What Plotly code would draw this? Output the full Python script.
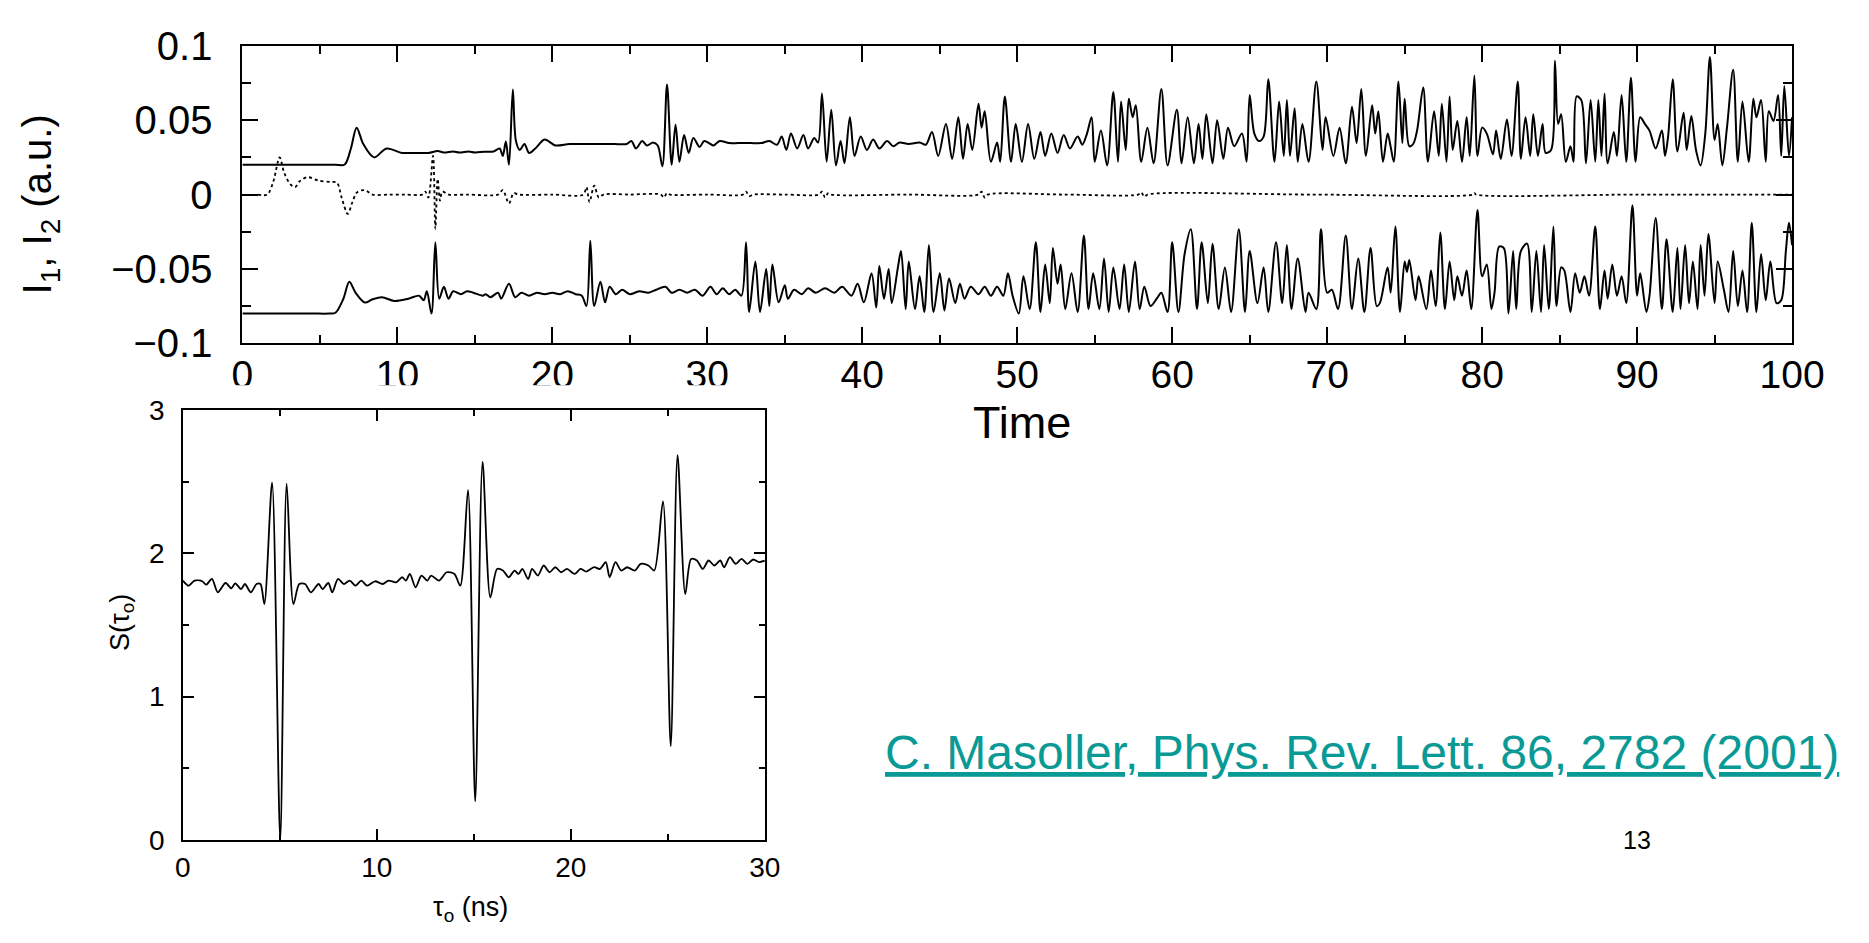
import plotly.graph_objects as go

W, H = 1869, 943
FONT = "Liberation Sans, Arial, Helvetica, sans-serif"

# ---------------- data: upper chart (time traces) ----------------
I1_POINTS = [
    (0, 0.020), (1.5, 0.020), (3.0, 0.020), (4.5, 0.020), (6.0, 0.020), (6.6, 0.0202), (7.0, 0.031),
    (7.37, 0.045), (7.8, 0.034), (8.5, 0.025), (9.3, 0.031), (10.3, 0.028), (11.0, 0.028),
    (12.0, 0.028), (12.6, 0.0292), (13.0, 0.0283), (13.6, 0.029), (14.0, 0.0283), (14.6, 0.029),
    (15.0, 0.0283), (15.6, 0.0288), (16.2, 0.029),
    (16.6, 0.031), (16.8, 0.026), (17.0, 0.0356), (17.2, 0.020), (17.45, 0.0706), (17.65, 0.036),
    (17.9, 0.030), (18.2, 0.034), (18.5, 0.028), (18.9, 0.031), (19.5, 0.037), (20.2, 0.033),
    (21.1, 0.034), (22.0, 0.034), (23.0, 0.034), (24.0, 0.034), (24.8, 0.034), (25.1, 0.036),
    (25.4, 0.031), (25.8, 0.036), (26.1, 0.033), (26.5, 0.035), (26.8, 0.033), (27.1, 0.019),
    (27.4, 0.074), (27.7, 0.020), (27.95, 0.047), (28.2, 0.022), (28.5, 0.040), (28.8, 0.028),
    (29.1, 0.038), (29.5, 0.032), (29.8, 0.036), (30.2, 0.034), (30.4, 0.033), (30.8, 0.036),
    (31.4, 0.0346), (32.0, 0.0346), (32.8, 0.0346), (33.5, 0.0346), (34.0, 0.036),
    (34.5, 0.0335), (34.8, 0.039), (35.1, 0.030), (35.4, 0.041), (35.8, 0.031), (36.2, 0.040),
    (36.5, 0.031), (36.9, 0.038), (37.15, 0.035), (37.4, 0.068), (37.7, 0.022), (38.0, 0.057),
    (38.3, 0.0196), (38.6, 0.036), (38.85, 0.021), (39.2, 0.052), (39.5, 0.026), (39.9, 0.039),
    (40.3, 0.030), (40.7, 0.037), (41.1, 0.031), (41.6, 0.036), (42.0, 0.0325), (42.4, 0.035),
    (43.0, 0.034), (43.7, 0.035), (44.1, 0.0335), (44.5, 0.042), (44.9, 0.026), (45.4, 0.0475),
    (45.8, 0.024), (46.2, 0.052), (46.5, 0.024), (46.8, 0.0475), (47.1, 0.030), (47.5, 0.061),
    (47.7, 0.045), (47.9, 0.056), (48.3, 0.022), (48.7, 0.035), (48.9, 0.022), (49.2, 0.066),
    (49.6, 0.022), (49.9, 0.0475), (50.3, 0.022), (50.7, 0.0475), (51.1, 0.024), (51.5, 0.042),
    (51.8, 0.026), (52.2, 0.041), (52.6, 0.028), (53.0, 0.040), (53.4, 0.031), (53.9, 0.039),
    (54.2, 0.0335), (54.5, 0.041), (54.8, 0.052), (55.0, 0.022), (55.4, 0.043), (55.8, 0.0196),
    (56.2, 0.069), (56.5, 0.022), (56.7, 0.0625), (57.0, 0.030), (57.2, 0.0645), (57.45, 0.052),
    (57.65, 0.060), (58.0, 0.022), (58.4, 0.045), (58.8, 0.021), (59.3, 0.071), (59.7, 0.0196),
    (60.3, 0.057), (60.6, 0.021), (61.0, 0.052), (61.4, 0.021), (61.7, 0.0475), (61.95, 0.024),
    (62.2, 0.054), (62.6, 0.021), (62.9, 0.050), (63.3, 0.024), (63.6, 0.045), (64.0, 0.0325),
    (64.5, 0.041), (64.8, 0.022), (65.0, 0.067), (65.3, 0.041), (65.6, 0.036), (65.9, 0.039),
    (66.2, 0.0775), (66.6, 0.022), (66.9, 0.0625), (67.2, 0.026), (67.4, 0.0635), (67.6, 0.026),
    (67.9, 0.058), (68.1, 0.022), (68.4, 0.0475), (68.8, 0.022), (69.3, 0.076), (69.7, 0.030),
    (69.9, 0.052), (70.4, 0.026), (70.8, 0.045), (71.2, 0.021), (71.6, 0.059), (71.9, 0.0346),
    (72.2, 0.071), (72.5, 0.026), (72.9, 0.060), (73.1, 0.041), (73.3, 0.056), (73.6, 0.022),
    (73.9, 0.041), (74.1, 0.032), (74.3, 0.022), (74.6, 0.076), (74.85, 0.0346), (75.0, 0.0645),
    (75.3, 0.0325), (75.55, 0.034), (75.8, 0.043), (76.2, 0.072), (76.5, 0.022), (76.9, 0.056),
    (77.2, 0.026), (77.4, 0.061), (77.7, 0.022), (77.9, 0.066), (78.1, 0.030), (78.4, 0.0495),
    (78.7, 0.022), (79.0, 0.052), (79.2, 0.026), (79.5, 0.080), (79.7, 0.026), (80.0, 0.045),
    (80.3, 0.041), (80.7, 0.027), (80.9, 0.043), (81.2, 0.024), (81.6, 0.0505), (81.9, 0.026),
    (82.3, 0.076), (82.5, 0.024), (82.8, 0.052), (83.1, 0.026), (83.3, 0.054), (83.6, 0.026),
    (83.9, 0.0475), (84.1, 0.028), (84.45, 0.030), (84.7, 0.090), (84.9, 0.0475), (85.1, 0.054),
    (85.4, 0.022), (85.7, 0.0325), (85.9, 0.022), (86.1, 0.066), (86.4, 0.0635), (86.7, 0.021),
    (87.0, 0.0635), (87.3, 0.022), (87.5, 0.0635), (87.7, 0.026), (87.9, 0.068), (88.1, 0.021),
    (88.5, 0.042), (88.7, 0.026), (89.0, 0.067), (89.3, 0.022), (89.6, 0.0785), (89.9, 0.022),
    (90.2, 0.052), (90.5, 0.0475), (90.8, 0.043), (91.2, 0.031), (91.6, 0.043), (91.8, 0.026),
    (92.0, 0.039), (92.3, 0.0775), (92.6, 0.029), (93.0, 0.055), (93.2, 0.030), (93.5, 0.0528),
    (93.8, 0.030), (94.1, 0.0196), (94.4, 0.041), (94.7, 0.0925), (95.0, 0.0367), (95.2, 0.0475),
    (95.5, 0.0196), (95.8, 0.045), (96.2, 0.084), (96.5, 0.022), (96.8, 0.0625), (97.2, 0.022),
    (97.5, 0.0645), (97.7, 0.052), (98.0, 0.0635), (98.3, 0.022), (98.5, 0.056), (98.8, 0.0495),
    (99.1, 0.067), (99.3, 0.026), (99.5, 0.073), (99.8, 0.026), (100.0, 0.052),
]

I2_POINTS = [
    (0, -0.080), (1.5, -0.080), (3.0, -0.080), (4.5, -0.080), (5.6, -0.080), (6.0, -0.0795),
    (6.5, -0.0704), (6.9, -0.0586), (7.3, -0.066), (7.9, -0.0726),
    (8.4, -0.0704), (9.0, -0.069), (9.8, -0.0715), (10.7, -0.070), (11.4, -0.068), (11.7, -0.071),
    (11.9, -0.065), (12.2, -0.080), (12.45, -0.032), (12.7, -0.070), (13.0, -0.062), (13.3, -0.070),
    (13.6, -0.065), (14.1, -0.067), (14.5, -0.065), (14.9, -0.066), (15.5, -0.068), (15.7, -0.067),
    (16.0, -0.069), (16.5, -0.066), (16.7, -0.070), (17.2, -0.060), (17.6, -0.069), (18.0, -0.066),
    (18.5, -0.068), (19.0, -0.066), (19.5, -0.067), (20.0, -0.066), (20.5, -0.067), (21.0, -0.065),
    (21.5, -0.067), (21.9, -0.068), (22.2, -0.075), (22.45, -0.031), (22.7, -0.075), (23.1, -0.0586),
    (23.4, -0.0725), (23.7, -0.062), (24.1, -0.067), (24.5, -0.064), (25.0, -0.067), (25.6, -0.065),
    (26.2, -0.066), (26.7, -0.064), (27.3, -0.062), (27.7, -0.066), (28.2, -0.064), (28.7, -0.066),
    (29.2, -0.064), (29.7, -0.068), (30.2, -0.062), (30.6, -0.067), (31.0, -0.063), (31.4, -0.067),
    (31.8, -0.064), (32.2, -0.068), (32.5, -0.032), (32.7, -0.079), (33.1, -0.045), (33.4, -0.079),
    (33.8, -0.050), (34.0, -0.075), (34.2, -0.047), (34.6, -0.0725), (35.0, -0.061), (35.2, -0.070),
    (35.6, -0.064), (36.1, -0.067), (36.5, -0.063), (37.0, -0.066), (37.6, -0.063), (38.2, -0.066),
    (38.7, -0.062), (39.3, -0.068), (39.7, -0.060), (40.1, -0.0725), (40.6, -0.053), (40.9, -0.076),
    (41.1, -0.048), (41.4, -0.070), (41.7, -0.050), (41.9, -0.073), (42.3, -0.049), (42.5, -0.038),
    (42.8, -0.077), (43.0, -0.045), (43.4, -0.077), (43.7, -0.055), (44.0, -0.079), (44.3, -0.034),
    (44.6, -0.079), (45.0, -0.053), (45.3, -0.078), (45.6, -0.0565), (46.0, -0.073), (46.3, -0.060),
    (46.6, -0.070), (47.0, -0.062), (47.5, -0.067), (47.9, -0.062), (48.3, -0.068), (48.7, -0.062),
    (49.1, -0.068), (49.4, -0.053), (49.7, -0.068), (50.1, -0.080), (50.4, -0.055), (50.8, -0.077),
    (51.2, -0.032), (51.5, -0.079), (51.8, -0.047), (52.1, -0.073), (52.3, -0.036), (52.6, -0.060),
    (52.8, -0.047), (53.1, -0.077), (53.5, -0.053), (53.9, -0.079), (54.3, -0.0276), (54.6, -0.077),
    (54.9, -0.053), (55.3, -0.077), (55.6, -0.043), (55.9, -0.079), (56.2, -0.049), (56.6, -0.077),
    (56.9, -0.047), (57.2, -0.079), (57.6, -0.045), (57.9, -0.077), (58.2, -0.062), (58.6, -0.075),
    (59.0, -0.070), (59.3, -0.066), (59.7, -0.079), (60.0, -0.032), (60.4, -0.079), (60.8, -0.040),
    (61.2, -0.0233), (61.6, -0.077), (61.9, -0.032), (62.3, -0.073), (62.6, -0.033), (63.0, -0.077),
    (63.4, -0.049), (63.8, -0.079), (64.3, -0.0233), (64.7, -0.079), (65.0, -0.038), (65.5, -0.073),
    (65.9, -0.049), (66.2, -0.079), (66.7, -0.032), (67.1, -0.073), (67.4, -0.034), (67.7, -0.077),
    (68.1, -0.043), (68.6, -0.079), (68.8, -0.066), (69.3, -0.077), (69.6, -0.0233), (70.0, -0.066),
    (70.3, -0.064), (70.7, -0.077), (71.2, -0.0276), (71.6, -0.077), (72.0, -0.043), (72.4, -0.079),
    (72.8, -0.036), (73.2, -0.075), (73.4, -0.073), (73.9, -0.049), (74.1, -0.066), (74.4, -0.0214),
    (74.7, -0.079), (75.0, -0.045), (75.15, -0.052), (75.3, -0.044), (75.7, -0.071), (75.9, -0.055),
    (76.4, -0.077), (76.7, -0.051), (77.0, -0.075), (77.3, -0.0255), (77.6, -0.077), (77.9, -0.045),
    (78.2, -0.071), (78.4, -0.055), (78.7, -0.068), (79.0, -0.051), (79.3, -0.077), (79.7, -0.0104),
    (80.0, -0.055), (80.3, -0.047), (80.6, -0.077), (80.8, -0.066), (81.1, -0.035), (81.4, -0.036),
    (81.7, -0.080), (82.0, -0.038), (82.2, -0.077), (82.5, -0.038), (82.9, -0.033), (83.2, -0.079),
    (83.5, -0.038), (83.8, -0.079), (84.0, -0.034), (84.3, -0.077), (84.6, -0.0214), (84.8, -0.075),
    (85.1, -0.049), (85.3, -0.051), (85.7, -0.079), (86.0, -0.053), (86.3, -0.066), (86.6, -0.055),
    (86.9, -0.068), (87.3, -0.0214), (87.6, -0.077), (87.9, -0.051), (88.1, -0.070), (88.4, -0.047),
    (88.7, -0.068), (89.0, -0.055), (89.3, -0.073), (89.7, -0.0072), (90.0, -0.068), (90.2, -0.053),
    (90.6, -0.079), (90.8, -0.068), (91.2, -0.0158), (91.6, -0.077), (91.9, -0.030), (92.3, -0.079),
    (92.6, -0.036), (92.8, -0.077), (93.1, -0.034), (93.35, -0.073), (93.6, -0.045), (93.9, -0.077),
    (94.1, -0.034), (94.35, -0.068), (94.6, -0.0265), (95.0, -0.073), (95.2, -0.045), (95.6, -0.064),
    (95.9, -0.079), (96.2, -0.038), (96.5, -0.075), (96.8, -0.051), (97.1, -0.079), (97.4, -0.019),
    (97.7, -0.079), (98.0, -0.040), (98.3, -0.071), (98.6, -0.045), (99.0, -0.073), (99.3, -0.071),
    (99.6, -0.038), (99.8, -0.019), (100.0, -0.034),
]

DIFF_POINTS = [
    (1.0, 0.0), (1.6, 0.0), (2.0, 0.009), (2.4, 0.025), (2.7, 0.0145), (3.1, 0.0068), (3.4, 0.005),
    (3.7, 0.009), (4.2, 0.0117), (4.9, 0.0094), (5.7, 0.0085), (6.1, 0.008), (6.4, -0.002),
    (6.8, -0.013), (7.1, -0.005), (7.4, 0.0015), (7.9, 0.003), (8.4, 0.0), (9.5, 0.0), (10.5, 0.0),
    (11.6, 0.0), (11.8, 0.002),
    (12.0, -0.002), (12.3, 0.026), (12.45, -0.023), (12.6, 0.0105), (12.75, -0.004), (12.9, 0.002),
    (13.3, 0.0), (14.5, 0.0), (16.5, 0.0), (16.8, 0.003), (17.2, -0.006), (17.5, 0.001), (17.8, 0.0),
    (20.0, 0.0), (22.0, 0.0),
    (22.2, 0.005), (22.4, -0.005), (22.7, 0.006), (23.0, -0.002), (23.3, 0.0), (25.0, 0.0), (27.0, 0.0),
    (27.2, -0.002), (27.4, 0.001), (27.6, 0.0), (30.0, 0.0), (32.3, 0.0), (32.5, 0.002), (32.7, -0.001),
    (33.0, 0.0), (35.0, 0.0),
    (37.2, 0.0), (37.4, 0.002), (37.6, -0.002), (37.8, 0.001), (38.0, 0.0), (43.0, 0.0), (47.5, 0.0),
    (47.7, 0.002), (47.9, -0.002), (48.1, 0.0), (53.0, 0.0), (57.8, 0.0), (58.0, 0.0015),
    (58.2, -0.0015), (58.4, 0.0), (69.0, 0.0), (79.4, 0.0), (79.5, 0.001), (79.6, 0.0), (90.0, 0.0),
    (100.0, 0.0),
]

TOP_X_TICKS = [0, 10, 20, 30, 40, 50, 60, 70, 80, 90, 100]
TOP_X_LABELS = ["0", "10", "20", "30", "40", "50", "60", "70", "80", "90", "100"]
TOP_X_MINOR = [5, 15, 25, 35, 45, 55, 65, 75, 85, 95]
TOP_Y_TICKS = [-0.1, -0.05, 0, 0.05, 0.1]
TOP_Y_LABELS = ["\u22120.1", "\u22120.05", "0", "0.05", "0.1"]
TOP_Y_MINOR = [-0.075, -0.025, 0.025, 0.075]

# ---------------- data: lower chart S(tau) ----------------
S_POINTS = [
    (0.0, 1.810), (0.3, 1.774), (0.6, 1.810), (1.0, 1.805), (1.2, 1.781), (1.5, 1.821), (1.8, 1.728),
    (2.2, 1.793), (2.5, 1.756), (2.7, 1.791), (3.0, 1.751), (3.2, 1.786), (3.5, 1.728), (3.8, 1.786),
    (4.0, 1.786), (4.2, 1.646), (4.6, 2.494), (5.02, 0.0), (5.35, 2.487), (5.7, 1.646), (6.0, 1.786),
    (6.3, 1.786), (6.6, 1.728), (7.0, 1.786), (7.2, 1.751), (7.5, 1.793), (7.7, 1.728), (8.0, 1.821),
    (8.3, 1.786), (8.6, 1.810), (8.9, 1.774), (9.2, 1.810), (9.5, 1.774), (9.9, 1.805), (10.3, 1.786),
    (10.6, 1.810), (11.0, 1.798), (11.3, 1.833), (11.5, 1.810), (11.7, 1.856), (12.0, 1.763),
    (12.3, 1.845), (12.6, 1.810), (12.8, 1.845), (13.2, 1.810), (13.6, 1.868), (14.0, 1.856),
    (14.3, 1.774), (14.7, 2.440), (15.07, 0.269), (15.45, 2.638), (15.85, 1.693), (16.2, 1.891),
    (16.5, 1.880), (16.8, 1.833), (17.1, 1.880), (17.3, 1.856), (17.5, 1.891), (17.8, 1.821),
    (18.0, 1.891), (18.3, 1.845), (18.6, 1.915), (18.9, 1.868), (19.2, 1.903), (19.5, 1.868),
    (19.8, 1.891), (20.2, 1.856), (20.5, 1.891), (20.8, 1.873), (21.2, 1.903), (21.5, 1.891),
    (21.8, 1.938), (22.0, 1.833), (22.3, 1.938), (22.6, 1.880), (22.9, 1.903), (23.3, 1.880),
    (23.6, 1.926), (24.0, 1.915), (24.3, 1.880), (24.75, 2.363), (25.15, 0.654), (25.5, 2.685),
    (25.9, 1.716), (26.2, 1.961), (26.5, 1.950), (26.8, 1.891), (27.1, 1.950), (27.4, 1.915),
    (27.7, 1.950), (27.9, 1.903), (28.2, 1.973), (28.5, 1.926), (28.8, 1.961), (29.1, 1.926),
    (29.4, 1.957), (29.7, 1.938), (30.0, 1.950),
]

S_X_TICKS = [0, 10, 20, 30]
S_X_MINOR = [5, 15, 25]
S_Y_TICKS = [0, 1, 2, 3]
S_Y_MINOR = [0.5, 1.5, 2.5]

CITATION = "C. Masoller, Phys. Rev. Lett. 86, 2782 (2001)"
PAGE_NUMBER = "13"


def unzip(points):
    return [p[0] for p in points], [p[1] for p in points]


def fx(px):
    return px / W


def fy(px):
    return 1 - px / H


i1_t, i1_v = unzip(I1_POINTS)
i2_t, i2_v = unzip(I2_POINTS)
d_t, d_v = unzip(DIFF_POINTS)
s_t, s_v = unzip(S_POINTS)

fig = go.Figure()

# subplot 1: carrier of the upper chart's x tick labels
fig.add_trace(go.Scatter(x=[], y=[], xaxis="x", yaxis="y", showlegend=False, hoverinfo="skip"))
# subplot 2: white panel of the lower picture (it hides the lower half of some labels above)
fig.add_trace(go.Scatter(x=[], y=[], xaxis="x2", yaxis="y2", showlegend=False, hoverinfo="skip"))

line_solid = dict(color="black", width=2, shape="spline", smoothing=0.9)
fig.add_trace(go.Scatter(x=i1_t, y=i1_v, xaxis="x3", yaxis="y3", mode="lines",
                         line=line_solid, showlegend=False, name="I1"))
fig.add_trace(go.Scatter(x=i2_t, y=i2_v, xaxis="x3", yaxis="y3", mode="lines",
                         line=line_solid, showlegend=False, name="I2"))
fig.add_trace(go.Scatter(x=d_t, y=d_v, xaxis="x3", yaxis="y3", mode="lines",
                         line=dict(color="black", width=1.8, dash="3px,3px", shape="spline", smoothing=0.9),
                         showlegend=False, name="I1 - I2"))

fig.add_trace(go.Scatter(x=s_t, y=s_v, xaxis="x4", yaxis="y4", mode="lines",
                         line=dict(color="black", width=1.8, shape="spline", smoothing=0.8),
                         showlegend=False, name="S"))

top_dom_x = [fx(237), fx(1824)]
axis_common = dict(showgrid=False, zeroline=False, fixedrange=True)

fig.update_layout(
    width=W, height=H,
    margin=dict(l=0, r=0, t=0, b=0),
    paper_bgcolor="white", plot_bgcolor="white",
    font=dict(family=FONT, color="black"),
    showlegend=False,
    xaxis=dict(domain=top_dom_x, anchor="y", range=[0, 100], side="top",
               tickmode="array", tickvals=TOP_X_TICKS, ticktext=TOP_X_LABELS,
               showline=False, ticks="", tickfont=dict(size=39, family=FONT, color="black"),
               ticklabelstandoff=0, **axis_common),
    yaxis=dict(domain=[fy(397), fy(393)], anchor="x", range=[0, 1], visible=False, fixedrange=True),
    xaxis2=dict(domain=[0, fx(790)], anchor="y2", range=[0, 1], visible=False, fixedrange=True),
    yaxis2=dict(domain=[0, fy(381)], anchor="x2", range=[0, 1], visible=False, fixedrange=True),
    xaxis3=dict(domain=top_dom_x, anchor="y3", range=[0, 100],
                showline=True, linecolor="black", linewidth=2, mirror="ticks",
                ticks="inside", ticklen=16, tickwidth=2, tickcolor="black",
                tickmode="array", tickvals=TOP_X_TICKS, showticklabels=False,
                minor=dict(ticks="inside", ticklen=8, tickwidth=2, tickcolor="black",
                           tickmode="array", tickvals=TOP_X_MINOR),
                **axis_common),
    yaxis3=dict(domain=[fy(337), fy(25)], anchor="x3", range=[-0.1, 0.1],
                showline=True, linecolor="black", linewidth=2, mirror="ticks",
                ticks="inside", ticklen=16, tickwidth=2, tickcolor="black",
                tickmode="array", tickvals=TOP_Y_TICKS, ticktext=TOP_Y_LABELS,
                tickfont=dict(size=40, family=FONT, color="black"), ticklabelstandoff=20,
                minor=dict(ticks="inside", ticklen=9, tickwidth=2, tickcolor="black",
                           tickmode="array", tickvals=TOP_Y_MINOR),
                **axis_common),
    xaxis4=dict(domain=[fx(176), fx(772)], anchor="y4", range=[0, 30],
                showline=True, linecolor="black", linewidth=1.5, mirror="ticks",
                ticks="inside", ticklen=11, tickwidth=1.5, tickcolor="black",
                tickmode="array", tickvals=S_X_TICKS,
                tickfont=dict(size=28, family=FONT, color="black"), ticklabelstandoff=2,
                minor=dict(ticks="inside", ticklen=6, tickwidth=1.5, tickcolor="black",
                           tickmode="array", tickvals=S_X_MINOR),
                **axis_common),
    yaxis4=dict(domain=[fy(858), fy(407)], anchor="x4", range=[0, 3],
                showline=True, linecolor="black", linewidth=1.5, mirror="ticks",
                ticks="inside", ticklen=11, tickwidth=1.5, tickcolor="black",
                tickmode="array", tickvals=S_Y_TICKS,
                tickfont=dict(size=28, family=FONT, color="black"), ticklabelstandoff=11,
                minor=dict(ticks="inside", ticklen=6, tickwidth=1.5, tickcolor="black",
                           tickmode="array", tickvals=S_Y_MINOR),
                **axis_common),
)

annotations = [
    dict(text="I<sub>1</sub>, I<sub>2</sub> (a.u.)", x=fx(30), y=fy(191), textangle=-90,
         font=dict(size=40, family=FONT, color="black")),
    dict(text="Time", x=fx(1035), y=fy(420), font=dict(size=45, family=FONT, color="black")),
    dict(text="S(\u03c4<sub>o</sub>)", x=fx(113), y=fy(630), textangle=-90,
         font=dict(size=27, family=FONT, color="black")),
    dict(text="\u03c4<sub>o</sub> (ns)", x=fx(471), y=fy(930),
         font=dict(size=27, family=FONT, color="black")),
    dict(text="<u>" + CITATION + "</u>", x=fx(1384), y=fy(766),
         font=dict(size=48, family=FONT, color="#0a9a96")),
    dict(text=PAGE_NUMBER, x=fx(1665), y=fy(858), font=dict(size=25, family=FONT, color="black")),
]
for a in annotations:
    a.update(xref="paper", yref="paper", showarrow=False, xanchor="center", yanchor="middle")
fig.update_layout(annotations=annotations)

fig.write_html("out.html", config={"displayModeBar": False},
               post_script="document.body.style.margin='0';document.body.style.overflow='hidden';")
